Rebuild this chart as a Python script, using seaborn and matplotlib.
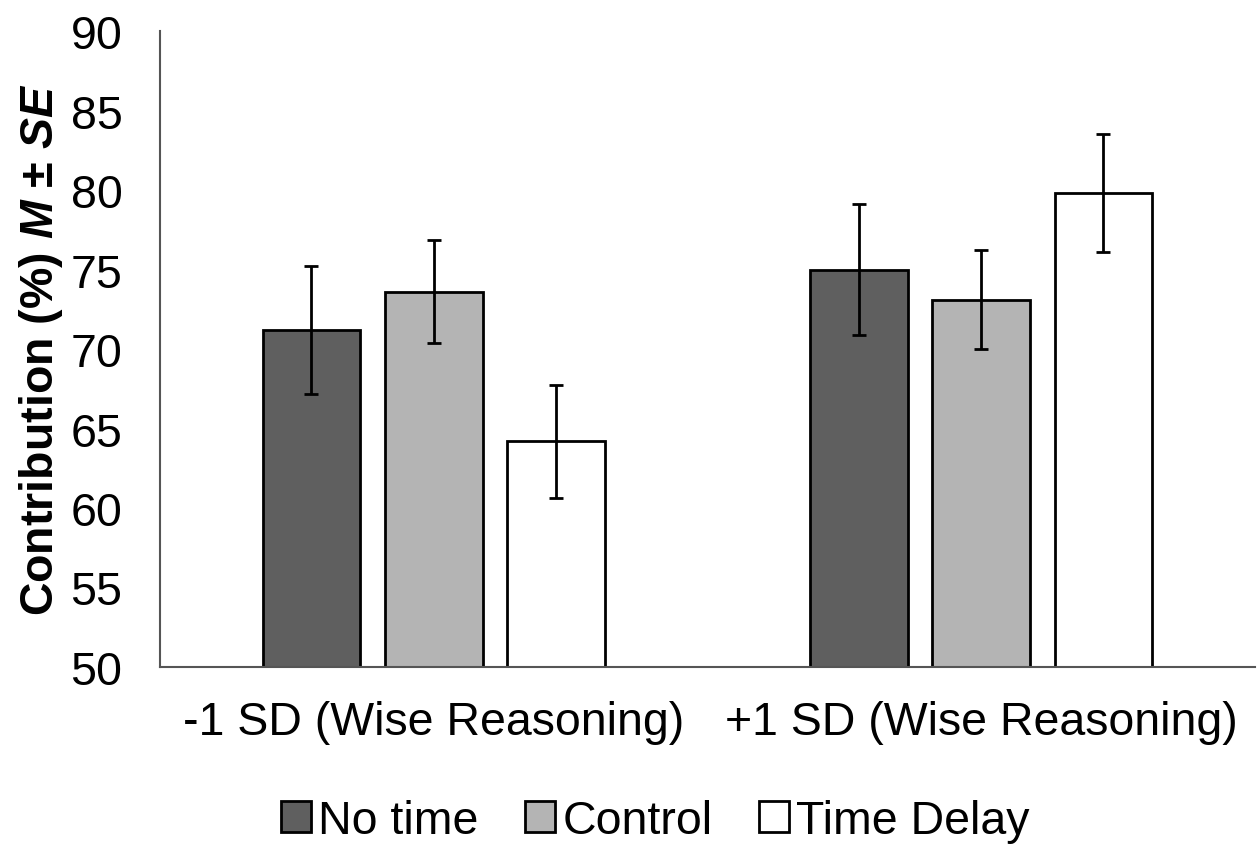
import matplotlib
matplotlib.use("Agg")
import matplotlib.pyplot as plt
import seaborn as sns
import pandas as pd
import numpy as np

# values
groups = ['-1 SD (Wise Reasoning)', '+1 SD (Wise Reasoning)']
conditions = ['No time', 'Control', 'Time Delay']
means_low = [71.2, 73.6, 64.2]
means_high = [75.0, 73.1, 79.8]
se_low = [4.0, 3.25, 3.55]
se_high = [4.1, 3.1, 3.7]

colors = ['#5f5f5f', '#b4b4b4', '#ffffff']

df = pd.DataFrame({
    'group': [groups[0]] * 3 + [groups[1]] * 3,
    'condition': conditions * 2,
    'mean': means_low + means_high,
    'se': se_low + se_high,
})

sns.set_style('white')
plt.rcParams['font.family'] = ['Liberation Sans', 'DejaVu Sans']
plt.rcParams['mathtext.fontset'] = 'custom'
plt.rcParams['mathtext.bfit'] = 'Liberation Sans:italic:bold'
plt.rcParams['mathtext.rm'] = 'Liberation Sans'
plt.rcParams['text.color'] = 'black'
plt.rcParams['axes.labelcolor'] = 'black'
plt.rcParams['xtick.color'] = 'black'
plt.rcParams['ytick.color'] = 'black'

fig = plt.figure(figsize=(12.6, 8.45), dpi=100)
ax = fig.add_axes([0.127, 0.2095, 0.869, 0.7525])

sns.barplot(data=df, x='group', y='mean', hue='condition', order=groups,
            hue_order=conditions, palette=colors, errorbar=None,
            width=0.67, gap=0.2, edgecolor='black', linewidth=2, ax=ax)

# error bars (SE) on each bar centre
for cont, cond in zip(ax.containers, conditions):
    sub = df[df['condition'] == cond].set_index('group').loc[groups]
    xs = [p.get_x() + p.get_width() / 2 for p in cont.patches]
    ax.errorbar(xs, sub['mean'], yerr=sub['se'], fmt='none', ecolor='black',
                elinewidth=2, capsize=5, capthick=2, zorder=5)

ax.set_ylim(50, 90)
ax.set_xlim(-0.5, 1.5)
ax.set_yticks(range(50, 91, 5))
ax.set_xlabel('')
ax.set_ylabel(r'Contribution (%) $\mathbfit{M}$ ± $\mathbfit{SE}$',
              fontsize=33.5, fontweight='bold', labelpad=4)
ax.tick_params(axis='y', length=0, pad=27, labelsize=33.5)
ax.tick_params(axis='x', length=0, pad=24, labelsize=33.5)

for side in ['top', 'right']:
    ax.spines[side].set_visible(False)
for side in ['left', 'bottom']:
    ax.spines[side].set_color('#555555')
    ax.spines[side].set_linewidth(1.5)

handles, labels = ax.get_legend_handles_labels()
ax.get_legend().remove()
fig.legend(handles, labels, loc='center', bbox_to_anchor=(0.52, 0.027),
           ncol=3, frameon=False, fontsize=33.5, handlelength=0.65,
           handleheight=0.65, handletextpad=0.15, columnspacing=1.0)

fig.savefig('out.png', dpi=100)
